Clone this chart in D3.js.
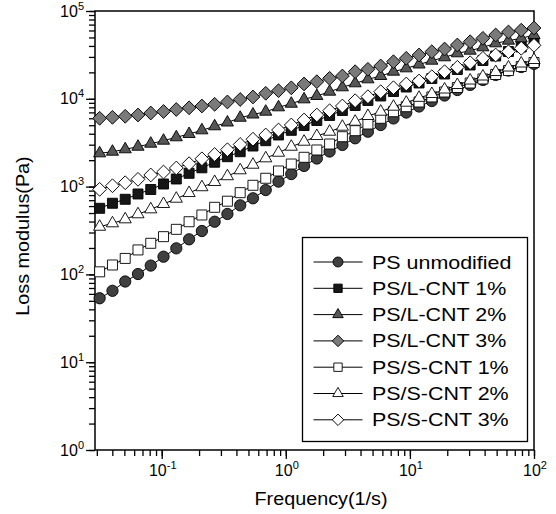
<!DOCTYPE html>
<html>
<head>
<meta charset="utf-8">
<script src="https://cdn.jsdelivr.net/npm/d3@7"></script>
<style>
  body { margin: 0; background: #fff; }
  svg { display: block; font-family: "Liberation Sans", Arial, sans-serif; }
</style>
</head>
<body>
<script>
// angular frequency (1/s)
const freq = [0.0316, 0.0401, 0.0508, 0.0644, 0.0816, 0.1034, 0.1311, 0.1662, 0.2107, 0.2670,
    0.3384, 0.4289, 0.5436, 0.6891, 0.8734, 1.107, 1.403, 1.778, 2.254, 2.857,
    3.621, 4.589, 5.817, 7.373, 9.346, 11.85, 15.02, 19.03, 24.12, 30.58,
    38.76, 49.12, 62.26, 78.92, 100];

// loss modulus G'' (Pa)
const psUnmodified = [53.5, 65, 83, 101, 126, 159, 198, 251, 312, 398,
    488, 612, 736, 914, 1140, 1390, 1720, 2090, 2510, 2980,
    3550, 4220, 5030, 5970, 6980, 8170, 9440, 10900, 12600, 14400,
    16400, 18700, 21000, 23000, 25000];
const psL1 = [566, 646, 717, 824, 927, 1071, 1221, 1417, 1637, 1895,
    2191, 2497, 2898, 3334, 3871, 4376, 4966, 5662, 6457, 7362,
    8392, 9570, 10770, 12110, 13620, 15140, 17030, 19150, 21560, 24250,
    27290, 30710, 34560, 38880, 43760];
const psL2 = [2393, 2497, 2661, 2846, 3083, 3334, 3646, 3971, 4376, 4864,
    5370, 6081, 6622, 7129, 8000, 8790, 9863, 10770, 12050, 13520,
    15020, 16670, 18190, 20360, 22240, 24590, 27160, 29700, 32980, 35320,
    38610, 42850, 45900, 48870, 53300];
const psL3 = [5998, 6152, 6322, 6537, 6890, 7166, 7553, 7893, 8279, 8655,
    9204, 9819, 10490, 11550, 12370, 13340, 14750, 15660, 17110, 18190,
    20360, 21680, 23640, 26470, 28930, 31540, 34390, 36900, 41000, 44670,
    48870, 53300, 57640, 60500, 64000];
const psS1 = [107, 128, 152, 190, 226, 269, 326, 398, 475, 581,
    682, 853, 1035, 1244, 1506, 1808, 2157, 2612, 3055, 3700,
    4335, 5164, 5998, 7129, 8128, 9200, 10500, 11950, 13450, 15140,
    16820, 18920, 20990, 23330, 25900];
const psS2 = [349, 382, 424, 484, 551, 634, 728, 845, 984, 1128,
    1313, 1534, 1775, 2100, 2432, 2846, 3246, 3767, 4218, 4810,
    5484, 6368, 7129, 8128, 9032, 10260, 11340, 12760, 14360, 16150,
    17950, 20190, 22710, 25240, 27670];
const psS3 = [931, 1023, 1107, 1211, 1356, 1466, 1629, 1823, 2073, 2321,
    2630, 3018, 3467, 3871, 4413, 5032, 5737, 6537, 7314, 8279,
    9511, 10570, 12050, 13370, 14750, 15950, 17850, 20360, 22840, 25760,
    28930, 31540, 34390, 37610, 40660];

const seriesNames = ["PS unmodified", "PS/L-CNT 1%", "PS/L-CNT 2%", "PS/L-CNT 3%",
    "PS/S-CNT 1%", "PS/S-CNT 2%", "PS/S-CNT 3%"];
const seriesValues = [psUnmodified, psL1, psL2, psL3, psS1, psS2, psS3];

const xTickExps = [-1, 0, 1, 2];
const yTickExps = [0, 1, 2, 3, 4, 5];

function createLossChart(width, height) {
    const margin = { top: 11, right: 22, bottom: 64, left: 95 };

    const x = d3.scaleLog().domain([0.029, 100]).range([margin.left, width - margin.right]);
    const y = d3.scaleLog().domain([1, 1e5]).range([height - margin.bottom, margin.top]);

    // marker style per series: shape, fill, size in plot, size in legend, rotation
    const styles = [
        { shape: d3.symbolCircle, fill: "#404040", size: 100, lsize: 78, rot: 0 },
        { shape: d3.symbolSquare, fill: "#161616", size: 100, lsize: 70, rot: 0 },
        { shape: d3.symbolTriangle, fill: "#575757", size: 64, lsize: 48, rot: 0 },
        { shape: d3.symbolSquare, fill: "#7a7a7a", size: 95, lsize: 66, rot: 45 },
        { shape: d3.symbolSquare, fill: "#fff", size: 100, lsize: 70, rot: 0 },
        { shape: d3.symbolTriangle, fill: "#fff", size: 64, lsize: 48, rot: 0 },
        { shape: d3.symbolSquare, fill: "#fff", size: 95, lsize: 66, rot: 45 }
    ];

    const svg = d3.create("svg")
        .attr("width", width)
        .attr("height", height);

    svg.append("rect")
        .attr("width", width).attr("height", height)
        .attr("fill", "#fff");

    // minor ticks
    svg.append("g")
        .attr("transform", `translate(0,${y(1)})`)
        .call(d3.axisBottom(x).tickValues(x.ticks()).tickSize(6).tickSizeOuter(0).tickFormat(""));
    svg.append("g")
        .attr("transform", `translate(${x.range()[0]},0)`)
        .call(d3.axisLeft(y).tickValues(y.ticks()).tickSize(6).tickSizeOuter(0).tickFormat(""));

    // major ticks
    const xMajor = xTickExps.map(e => Math.pow(10, e));
    const yMajor = yTickExps.map(e => Math.pow(10, e));
    svg.append("g")
        .attr("transform", `translate(0,${y(1)})`)
        .call(d3.axisBottom(x).tickValues(xMajor).tickSize(9).tickSizeOuter(0).tickFormat(""));
    svg.append("g")
        .attr("transform", `translate(${x.range()[0]},0)`)
        .call(d3.axisLeft(y).tickValues(yMajor).tickSize(9).tickSizeOuter(0).tickFormat(""));

    svg.selectAll(".domain").remove();
    svg.selectAll(".tick line").attr("stroke", "#000").attr("stroke-width", 1.3);

    // frame
    svg.append("rect")
        .attr("x", x.range()[0]).attr("y", y.range()[1])
        .attr("width", x.range()[1] - x.range()[0])
        .attr("height", y.range()[0] - y.range()[1])
        .attr("fill", "none")
        .attr("stroke", "#000")
        .attr("stroke-width", 1.5);

    // tick labels 10^n
    const xl = svg.append("g").selectAll("text")
        .data(xTickExps)
        .join("text")
        .attr("x", d => x(Math.pow(10, d)) + 1)
        .attr("y", y(1) + 26)
        .attr("text-anchor", "middle")
        .style("font-size", "16px");
    xl.append("tspan").text("10");
    xl.append("tspan").attr("dy", -7).style("font-size", "11px").text(d => d);

    const yl = svg.append("g").selectAll("text")
        .data(yTickExps)
        .join("text")
        .attr("x", x.range()[0] - 11)
        .attr("y", d => y(Math.pow(10, d)) + 5.5)
        .attr("text-anchor", "end")
        .style("font-size", "16px");
    yl.append("tspan").text("10");
    yl.append("tspan").attr("dy", -7).style("font-size", "11px").text(d => d);

    // axis titles
    svg.append("text")
        .attr("transform", `translate(321,505) scale(1.07,1)`)
        .attr("text-anchor", "middle")
        .style("font-size", "18.5px")
        .text("Frequency(1/s)");

    svg.append("text")
        .attr("transform", `translate(29,236) rotate(-90) scale(1.07,1)`)
        .attr("text-anchor", "middle")
        .style("font-size", "18.5px")
        .text("Loss modulus(Pa)");

    const line = d3.line()
        .x((d, i) => x(freq[i]))
        .y(d => y(d));

    // series: line then symbols, later series on top
    seriesValues.forEach((vals, s) => {
        const st = styles[s];
        const g = svg.append("g");
        g.append("path")
            .attr("d", line(vals))
            .attr("fill", "none")
            .attr("stroke", "#000")
            .attr("stroke-width", 1);
        g.selectAll("path.pt")
            .data(vals)
            .join("path")
            .attr("class", "pt")
            .attr("transform", (d, i) => `translate(${x(freq[i])},${y(d)}) rotate(${st.rot})`)
            .attr("d", d3.symbol(st.shape, st.size))
            .attr("fill", st.fill)
            .attr("stroke", "#000")
            .attr("stroke-width", 0.9);
    });

    // legend
    const legend = svg.append("g");
    legend.append("rect")
        .attr("x", 302.5).attr("y", 237.5)
        .attr("width", 225).attr("height", 204)
        .attr("fill", "#fff")
        .attr("stroke", "#000")
        .attr("stroke-width", 1.3);

    const rows = legend.selectAll("g.row")
        .data(seriesNames)
        .join("g")
        .attr("class", "row")
        .attr("transform", (d, i) => `translate(0,${262 + i * 26.3})`);

    rows.append("line")
        .attr("x1", 313.5).attr("x2", 362.5)
        .attr("stroke", "#000").attr("stroke-width", 1);
    rows.append("path")
        .attr("transform", (d, i) => `translate(338,0) rotate(${styles[i].rot})`)
        .attr("d", (d, i) => d3.symbol(styles[i].shape, styles[i].lsize)())
        .attr("fill", (d, i) => styles[i].fill)
        .attr("stroke", "#000")
        .attr("stroke-width", 0.9);
    rows.append("text")
        .attr("transform", "translate(372,6.5) scale(1.16,1)")
        .style("font-size", "18.5px")
        .text(d => d);

    return svg.node();
}

document.body.appendChild(createLossChart(556, 514));
</script>
</body>
</html>
